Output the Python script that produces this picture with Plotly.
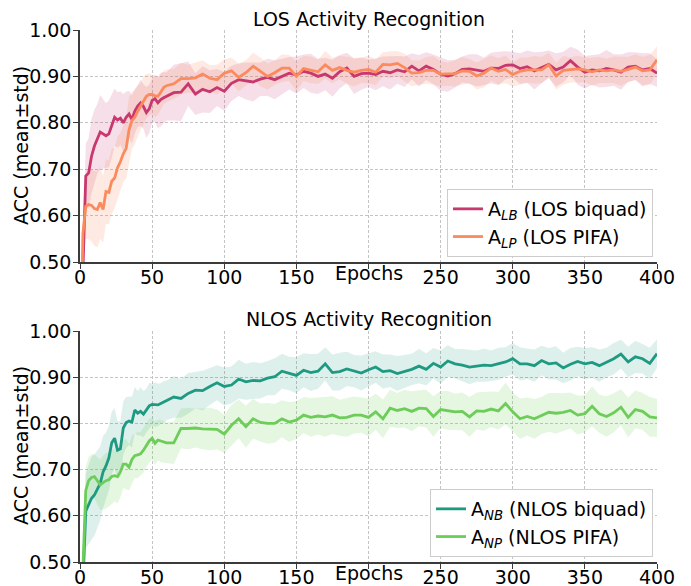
import plotly.graph_objects as go

# ---------------- data ----------------
EPOCHS = [1] + list(range(2, 61, 2)) + list(range(65, 401, 5))
X_TICKS = [0, 50, 100, 150, 200, 250, 300, 350, 400]
X_TICK_LABELS = ["0", "50", "100", "150", "", "250", "300", "350", "400"]
Y_TICKS = [0.5, 0.6, 0.7, 0.8, 0.9, 1.0]

LOS_B = [0.400, 0.480, 0.685, 0.692, 0.728, 0.750, 0.765, 0.780, 0.776, 0.772,
         0.776, 0.792, 0.812, 0.806, 0.810, 0.800, 0.812, 0.819, 0.807, 0.825,
         0.836, 0.843, 0.835, 0.822, 0.830, 0.848, 0.852, 0.843, 0.850, 0.854,
         0.857, 0.865, 0.866, 0.884, 0.862, 0.872, 0.867, 0.876, 0.868, 0.885,
         0.893, 0.890, 0.888, 0.894, 0.898, 0.893, 0.900, 0.907, 0.903, 0.911,
         0.907, 0.900, 0.905, 0.896, 0.910, 0.918, 0.900, 0.906, 0.907, 0.904,
         0.911, 0.908, 0.914, 0.910, 0.922, 0.912, 0.922, 0.915, 0.905, 0.901,
         0.906, 0.915, 0.916, 0.913, 0.911, 0.918, 0.917, 0.924, 0.925, 0.917,
         0.921, 0.912, 0.919, 0.926, 0.914, 0.920, 0.934, 0.920, 0.909, 0.914,
         0.912, 0.917, 0.914, 0.909, 0.920, 0.922, 0.914, 0.917, 0.907]
LOS_B_STD = [0.020, 0.040, 0.070, 0.075, 0.080, 0.078, 0.075, 0.080, 0.075, 0.070,
             0.072, 0.068, 0.062, 0.060, 0.058, 0.062, 0.055, 0.050, 0.052, 0.048,
             0.045, 0.050, 0.048, 0.055, 0.052, 0.048, 0.050, 0.055, 0.058, 0.055,
             0.052, 0.060, 0.062, 0.048, 0.045, 0.050, 0.046, 0.040, 0.042, 0.038,
             0.035, 0.040, 0.042, 0.036, 0.040, 0.042, 0.038, 0.035, 0.040, 0.036,
             0.042, 0.038, 0.035, 0.040, 0.036, 0.033, 0.038, 0.035, 0.030, 0.034,
             0.032, 0.036, 0.030, 0.033, 0.028, 0.034, 0.030, 0.032, 0.036, 0.034,
             0.030, 0.028, 0.032, 0.035, 0.030, 0.033, 0.036, 0.030, 0.028, 0.033,
             0.035, 0.040, 0.034, 0.030, 0.036, 0.033, 0.030, 0.038, 0.035, 0.032,
             0.036, 0.040, 0.034, 0.038, 0.032, 0.030, 0.036, 0.033, 0.030]

LOS_P = [0.400, 0.560, 0.620, 0.624, 0.622, 0.615, 0.613, 0.628, 0.613, 0.652,
         0.650, 0.674, 0.681, 0.703, 0.716, 0.733, 0.745, 0.785, 0.805, 0.812,
         0.825, 0.835, 0.848, 0.857, 0.861, 0.861, 0.858, 0.857, 0.866, 0.876,
         0.880, 0.884, 0.895, 0.895, 0.897, 0.905, 0.896, 0.893, 0.907, 0.912,
         0.898, 0.908, 0.922, 0.910, 0.900, 0.908, 0.918, 0.918, 0.900, 0.917,
         0.914, 0.910, 0.925, 0.913, 0.919, 0.913, 0.909, 0.913, 0.915, 0.909,
         0.926, 0.925, 0.928, 0.919, 0.907, 0.908, 0.913, 0.913, 0.905, 0.905,
         0.906, 0.912, 0.911, 0.901, 0.907, 0.918, 0.911, 0.915, 0.904, 0.911,
         0.914, 0.914, 0.914, 0.925, 0.901, 0.913, 0.914, 0.916, 0.914, 0.910,
         0.914, 0.912, 0.914, 0.911, 0.915, 0.920, 0.912, 0.914, 0.936]
LOS_P_STD = [0.020, 0.050, 0.070, 0.075, 0.078, 0.080, 0.082, 0.078, 0.072, 0.070,
             0.068, 0.070, 0.065, 0.068, 0.062, 0.060, 0.065, 0.070, 0.062, 0.058,
             0.055, 0.050, 0.052, 0.048, 0.045, 0.042, 0.045, 0.040, 0.038, 0.036,
             0.035, 0.032, 0.034, 0.030, 0.033, 0.030, 0.028, 0.032, 0.030, 0.028,
             0.030, 0.027, 0.029, 0.031, 0.028, 0.026, 0.030, 0.028, 0.032, 0.027,
             0.029, 0.026, 0.030, 0.028, 0.025, 0.029, 0.031, 0.027, 0.030, 0.028,
             0.026, 0.029, 0.027, 0.030, 0.028, 0.026, 0.029, 0.031, 0.027, 0.025,
             0.028, 0.030, 0.026, 0.029, 0.031, 0.027, 0.028, 0.030, 0.026, 0.029,
             0.027, 0.030, 0.028, 0.026, 0.029, 0.031, 0.027, 0.029, 0.026, 0.030,
             0.028, 0.026, 0.029, 0.031, 0.027, 0.028, 0.030, 0.032, 0.029]

NLOS_B = [0.400, 0.450, 0.610, 0.625, 0.638, 0.645, 0.657, 0.670, 0.695, 0.708,
          0.725, 0.758, 0.768, 0.742, 0.745, 0.790, 0.802, 0.805, 0.803, 0.829,
          0.822, 0.826, 0.820, 0.828, 0.838, 0.841, 0.841, 0.840, 0.843, 0.846,
          0.850, 0.857, 0.854, 0.865, 0.872, 0.871, 0.880, 0.888, 0.880, 0.883,
          0.896, 0.890, 0.893, 0.892, 0.898, 0.901, 0.913, 0.908, 0.904, 0.915,
          0.910, 0.913, 0.929, 0.910, 0.912, 0.918, 0.913, 0.909, 0.916, 0.922,
          0.912, 0.914, 0.908, 0.913, 0.917, 0.924, 0.917, 0.930, 0.922, 0.935,
          0.929, 0.926, 0.922, 0.924, 0.926, 0.925, 0.929, 0.933, 0.940, 0.929,
          0.929, 0.925, 0.936, 0.929, 0.931, 0.920, 0.928, 0.934, 0.929, 0.932,
          0.925, 0.932, 0.940, 0.950, 0.933, 0.944, 0.940, 0.930, 0.951]
NLOS_B_STD = [0.020, 0.050, 0.080, 0.085, 0.090, 0.088, 0.085, 0.080, 0.078, 0.072,
              0.070, 0.068, 0.065, 0.062, 0.060, 0.058, 0.055, 0.052, 0.055, 0.050,
              0.048, 0.052, 0.050, 0.047, 0.050, 0.045, 0.048, 0.046, 0.044, 0.045,
              0.043, 0.045, 0.042, 0.044, 0.040, 0.043, 0.040, 0.038, 0.041, 0.040,
              0.042, 0.039, 0.040, 0.038, 0.037, 0.040, 0.038, 0.036, 0.039, 0.037,
              0.040, 0.038, 0.036, 0.039, 0.041, 0.037, 0.035, 0.038, 0.036, 0.034,
              0.037, 0.035, 0.038, 0.036, 0.034, 0.037, 0.035, 0.033, 0.036, 0.034,
              0.032, 0.035, 0.037, 0.034, 0.036, 0.033, 0.035, 0.032, 0.034, 0.036,
              0.033, 0.035, 0.032, 0.034, 0.036, 0.033, 0.035, 0.032, 0.034, 0.033,
              0.035, 0.032, 0.034, 0.031, 0.033, 0.035, 0.032, 0.034, 0.031]

NLOS_P = [0.400, 0.500, 0.655, 0.676, 0.683, 0.685, 0.675, 0.667, 0.672, 0.676,
          0.678, 0.685, 0.687, 0.685, 0.695, 0.712, 0.712, 0.705, 0.722, 0.730,
          0.732, 0.734, 0.742, 0.752, 0.762, 0.768, 0.757, 0.764, 0.762, 0.760,
          0.758, 0.758, 0.789, 0.789, 0.790, 0.788, 0.788, 0.787, 0.777, 0.796,
          0.810, 0.793, 0.810, 0.802, 0.800, 0.800, 0.810, 0.803, 0.807, 0.818,
          0.813, 0.816, 0.814, 0.818, 0.812, 0.813, 0.818, 0.818, 0.813, 0.825,
          0.810, 0.833, 0.828, 0.832, 0.826, 0.833, 0.832, 0.815, 0.830, 0.828,
          0.825, 0.826, 0.814, 0.827, 0.826, 0.831, 0.827, 0.843, 0.825, 0.810,
          0.815, 0.810, 0.817, 0.824, 0.822, 0.824, 0.828, 0.818, 0.821, 0.837,
          0.821, 0.815, 0.823, 0.835, 0.813, 0.830, 0.826, 0.814, 0.812]
NLOS_P_STD = [0.020, 0.040, 0.050, 0.052, 0.050, 0.048, 0.052, 0.055, 0.058, 0.060,
              0.058, 0.060, 0.056, 0.058, 0.055, 0.052, 0.054, 0.050, 0.052, 0.048,
              0.050, 0.047, 0.049, 0.046, 0.048, 0.045, 0.047, 0.044, 0.046, 0.045,
              0.044, 0.046, 0.043, 0.045, 0.042, 0.044, 0.046, 0.043, 0.041, 0.044,
              0.042, 0.045, 0.043, 0.041, 0.044, 0.042, 0.040, 0.043, 0.041, 0.039,
              0.042, 0.040, 0.043, 0.041, 0.039, 0.042, 0.040, 0.038, 0.041, 0.039,
              0.042, 0.040, 0.038, 0.041, 0.043, 0.039, 0.041, 0.044, 0.040, 0.042,
              0.039, 0.041, 0.043, 0.040, 0.042, 0.038, 0.041, 0.045, 0.042, 0.044,
              0.041, 0.043, 0.040, 0.042, 0.044, 0.041, 0.039, 0.042, 0.040, 0.043,
              0.041, 0.044, 0.042, 0.039, 0.043, 0.041, 0.040, 0.043, 0.041]

SERIES = [
    # (mean, std, line colour, band colour, legend name, axes, legend)
    (LOS_B, LOS_B_STD, "#c8386f", "rgba(200,56,111,0.16)", "A<sub><i>LB</i></sub> (LOS biquad)", ("x", "y"), "legend"),
    (LOS_P, LOS_P_STD, "#fb8a5c", "rgba(251,138,92,0.18)", "A<sub><i>LP</i></sub> (LOS PIFA)", ("x", "y"), "legend"),
    (NLOS_B, NLOS_B_STD, "#1f9a82", "rgba(31,154,130,0.15)", "A<sub><i>NB</i></sub> (NLOS biquad)", ("x2", "y2"), "legend2"),
    (NLOS_P, NLOS_P_STD, "#6dcd59", "rgba(109,205,89,0.18)", "A<sub><i>NP</i></sub> (NLOS PIFA)", ("x2", "y2"), "legend2"),
]

FONT = "DejaVu Sans"
FS = 19
W, H = 691, 586
ML, MR, MT, MB = 80, 34, 30, 24

fig = go.Figure()

# bands first
for mean, std, col, band, name, (xa, ya), lg in SERIES:
    upper = [m + s for m, s in zip(mean, std)]
    lower = [m - s for m, s in zip(mean, std)]
    fig.add_trace(go.Scatter(x=EPOCHS, y=upper, mode="lines", line=dict(width=0, color=col),
                             xaxis=xa, yaxis=ya, showlegend=False, hoverinfo="skip"))
    fig.add_trace(go.Scatter(x=EPOCHS, y=lower, mode="lines", line=dict(width=0, color=col),
                             fill="tonexty", fillcolor=band,
                             xaxis=xa, yaxis=ya, showlegend=False, hoverinfo="skip"))

# mean lines
for mean, std, col, band, name, (xa, ya), lg in SERIES:
    fig.add_trace(go.Scatter(x=EPOCHS, y=mean, mode="lines", name=name,
                             line=dict(width=2.8, color=col),
                             xaxis=xa, yaxis=ya, legend=lg))

H_PLOT = float(H - MT - MB)
W_PLOT = float(W - ML - MR)
top_dom = [1 - 232 / H_PLOT, 1.0]
bot_dom = [0.0, 231 / H_PLOT]


def py(pix):
    """pixel row -> paper y"""
    return 1 - (pix - MT) / H_PLOT


def px(pix):
    """pixel column -> paper x"""
    return (pix - ML) / W_PLOT


common_x = dict(range=[0, 400], tickmode="array", tickvals=X_TICKS, ticktext=X_TICK_LABELS,
                showline=True, linecolor="#3a3a3a", linewidth=1.5, ticks="outside", ticklen=5,
                tickcolor="#3a3a3a", tickwidth=1.2, showgrid=True, gridcolor="#c4c4c4",
                griddash="3px,2px", gridwidth=1, zeroline=False, automargin=False,
                ticklabelstandoff=-8,
                tickfont=dict(size=FS, color="black", family=FONT))
common_y = dict(range=[0.5, 1.0], tickmode="array", tickvals=Y_TICKS, tickformat=".2f",
                showline=True, linecolor="#3a3a3a", linewidth=1.5, ticks="outside", ticklen=5,
                tickcolor="#3a3a3a", tickwidth=1.2, showgrid=True, gridcolor="#c4c4c4",
                griddash="3px,2px", gridwidth=1, zeroline=False, automargin=False,
                ticklabelstandoff=-2,
                tickfont=dict(size=FS, color="black", family=FONT))

fig.update_layout(
    width=W, height=H,
    margin=dict(l=ML, r=MR, t=MT, b=MB, autoexpand=False),
    paper_bgcolor="white", plot_bgcolor="white",
    font=dict(family=FONT, size=FS, color="black"),
    xaxis=dict(domain=[0, 1], anchor="y", **common_x),
    yaxis=dict(domain=top_dom, anchor="x", **common_y),
    xaxis2=dict(domain=[0, 1], anchor="y2", **common_x),
    yaxis2=dict(domain=bot_dom, anchor="x2", **common_y),
    legend=dict(x=px(653), y=py(257), xanchor="right", yanchor="bottom",
                bgcolor="white", bordercolor="#cccccc", borderwidth=1, traceorder="normal",
                font=dict(size=FS, family=FONT, color="black"), tracegroupgap=0),
    legend2=dict(x=px(653), y=py(557), xanchor="right", yanchor="bottom",
                 bgcolor="white", bordercolor="#cccccc", borderwidth=1, traceorder="normal",
                 font=dict(size=FS, family=FONT, color="black"), tracegroupgap=0),
    showlegend=True,
)

txt = dict(size=FS, family=FONT, color="black")
annotations = [
    dict(text="LOS Activity Recognition", xref="paper", yref="paper", x=0.5,
         y=py(19), xanchor="center", yanchor="middle", showarrow=False, font=txt),
    dict(text="NLOS Activity Recognition", xref="paper", yref="paper", x=0.5,
         y=py(319), xanchor="center", yanchor="middle", showarrow=False, font=txt),
    dict(text="ACC (mean±std)", xref="paper", yref="paper", x=px(21), y=py(146),
         xanchor="center", yanchor="middle", textangle=-90, showarrow=False, font=txt),
    dict(text="ACC (mean±std)", xref="paper", yref="paper", x=px(21), y=py(446),
         xanchor="center", yanchor="middle", textangle=-90, showarrow=False, font=txt),
    dict(text="Epochs", xref="x", yref="y domain", x=200, y=0, xanchor="center", yanchor="top",
         yshift=2, showarrow=False, font=txt),
    dict(text="Epochs", xref="x2", yref="y2 domain", x=200, y=0, xanchor="center", yanchor="top",
         yshift=2, showarrow=False, font=txt),
]
fig.update_layout(annotations=annotations)

fig.write_html("out.html", config={"displayModeBar": False},
               post_script="document.body.style.margin='0px';")
